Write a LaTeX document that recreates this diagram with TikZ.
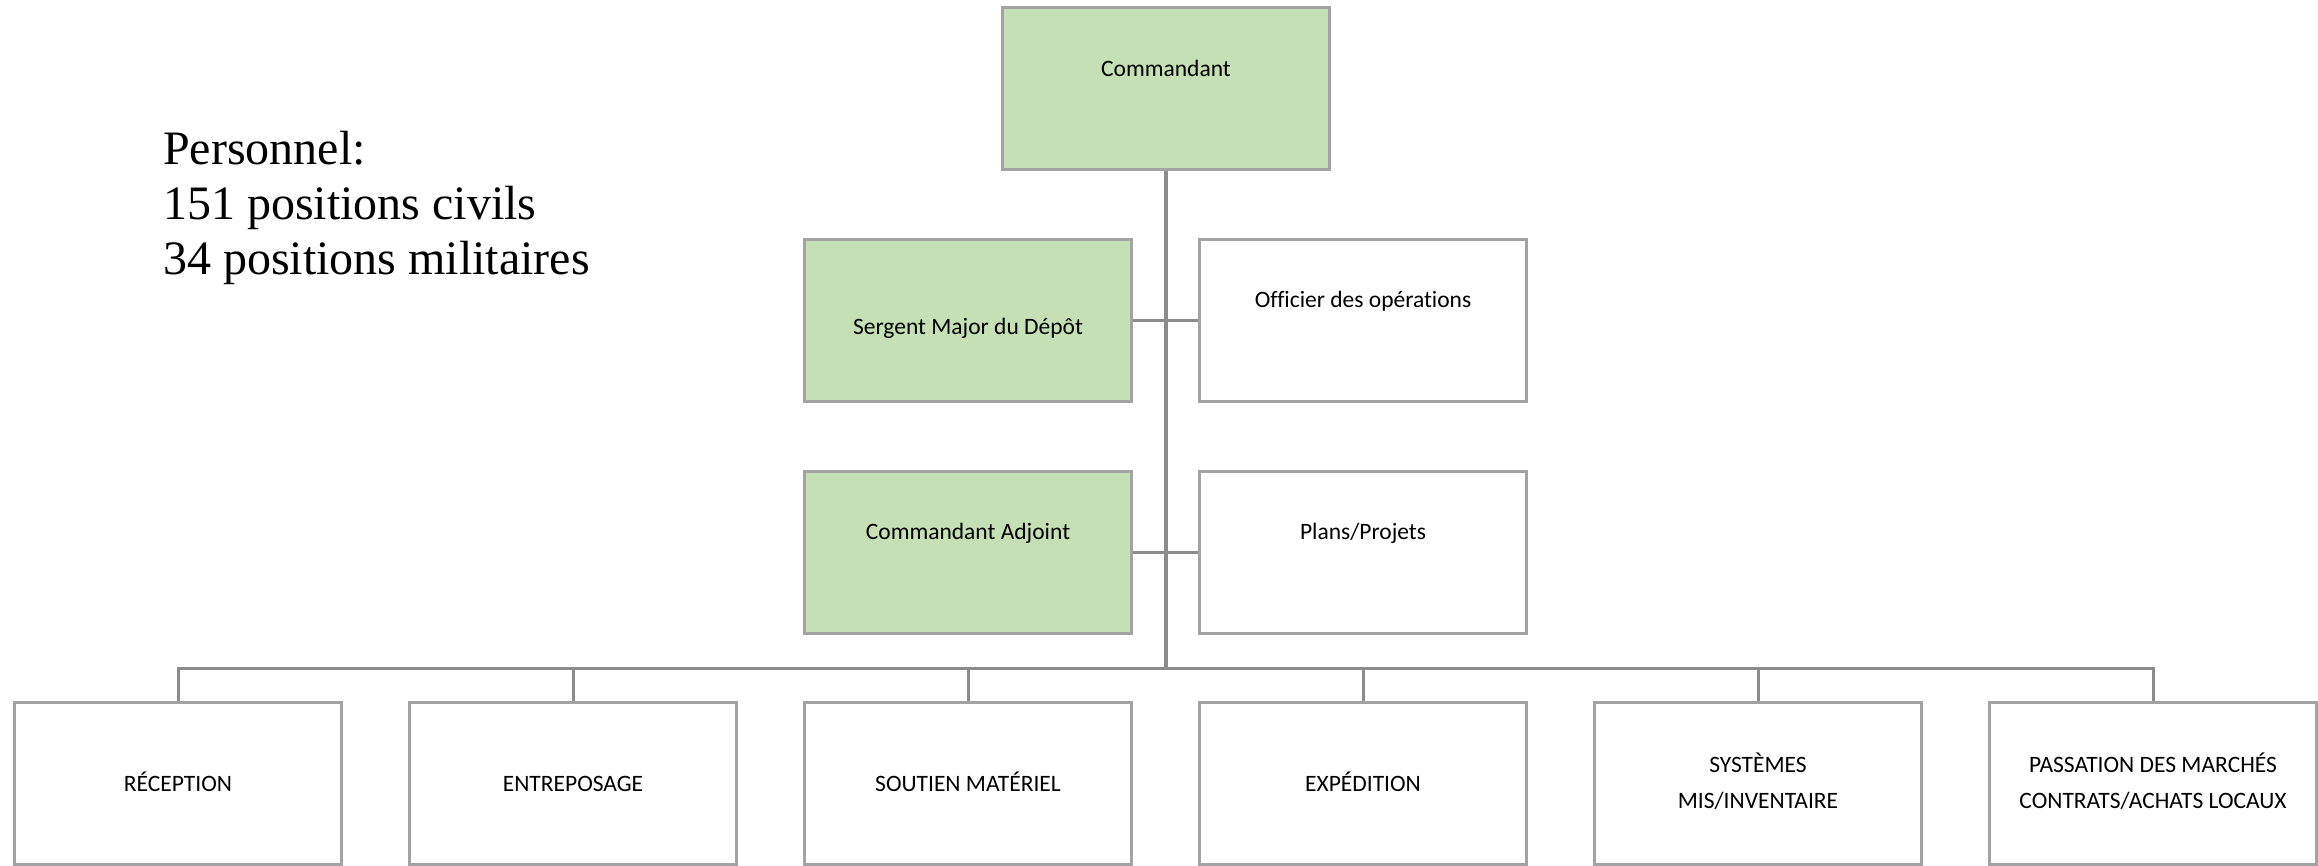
\documentclass[tikz,border=0pt]{standalone}
\usepackage{fontspec}
\setmainfont{Carlito}[Ligatures=NoCommon]
\newfontfamily\timesfont{Liberation Serif}
\definecolor{boxgreen}{HTML}{C5E0B4}
\definecolor{bordergray}{HTML}{A3A3A3}
\definecolor{linegray}{HTML}{8C8C8C}
\begin{document}
\begin{tikzpicture}[x=1pt,y=-1pt,
  orgbox/.style={draw=bordergray,line width=3pt,minimum width=327pt,minimum height=162pt,inner sep=0pt,fill=white},
  greenbox/.style={orgbox,fill=boxgreen},
  lbl/.style={inner sep=0pt,anchor=base,font=\fontsize{23.5}{28}\selectfont},
  conn/.style={draw=linegray,line width=3pt},
  mainconn/.style={draw=linegray,line width=4pt}]
\useasboundingbox (0,0) rectangle (2318,865);
% boxes
\node[greenbox] (cmd) at (1166,88) {};
\node[greenbox] (sgt) at (968,320) {};
\node[orgbox] (off) at (1363,320) {};
\node[greenbox] (adj) at (968,552) {};
\node[orgbox] (plans) at (1363,552) {};
\node[orgbox] (r1) at (178,783) {};
\node[orgbox] (r2) at (573,783) {};
\node[orgbox] (r3) at (968,783) {};
\node[orgbox] (r4) at (1363,783) {};
\node[orgbox] (r5) at (1758,783) {};
\node[orgbox] (r6) at (2153,783) {};
\coordinate (busc) at (1166,668);
% connectors
\draw[mainconn] (cmd.south) -- (busc);
\draw[conn] (sgt.east) -- (off.west);
\draw[conn] (adj.east) -- (plans.west);
\draw[conn] (r1.north) -- (r1.north |- busc) -- (r6.north |- busc) -- (r6.north);
\foreach \b in {r2,r3,r4,r5} \draw[conn] (\b.north) -- (\b.north |- busc);
% texts
\node[lbl] (tcmd) at (1166,76) {Commandant};
\node[lbl] (tsgt) at (968,334) {Sergent Major du Dépôt};
\node[lbl] (toff) at (1363,307) {Officier des opérations};
\node[lbl] (tadj) at (968,539) {Commandant Adjoint};
\node[lbl] (tplans) at (1363,539) {Plans/Projets};
\node[lbl] (tr1) at (178,791) {RÉCEPTION};
\node[lbl] (tr2) at (573,791) {ENTREPOSAGE};
\node[lbl] (tr3) at (968,791) {SOUTIEN MATÉRIEL};
\node[lbl] (tr4) at (1363,791) {EXPÉDITION};
\node[lbl] (tr5) at (1758,772) {\vtop{\baselineskip=36pt\halign{\hfil#\hfil\cr SYSTÈMES\cr MIS/INVENTAIRE\cr}}};
\node[lbl] (tr6) at (2153,772) {\vtop{\baselineskip=36pt\halign{\hfil#\hfil\cr PASSATION DES MARCHÉS\cr CONTRATS/ACHATS LOCAUX\cr}}};
\node[inner sep=0pt,anchor=base west,font=\timesfont\fontsize{48}{55}\selectfont] (pers) at (163,164)
  {\vtop{\baselineskip=55pt\hbox{Personnel:}\hbox{151 positions civils}\hbox{34 positions militaires}}};
\end{tikzpicture}
\end{document}
